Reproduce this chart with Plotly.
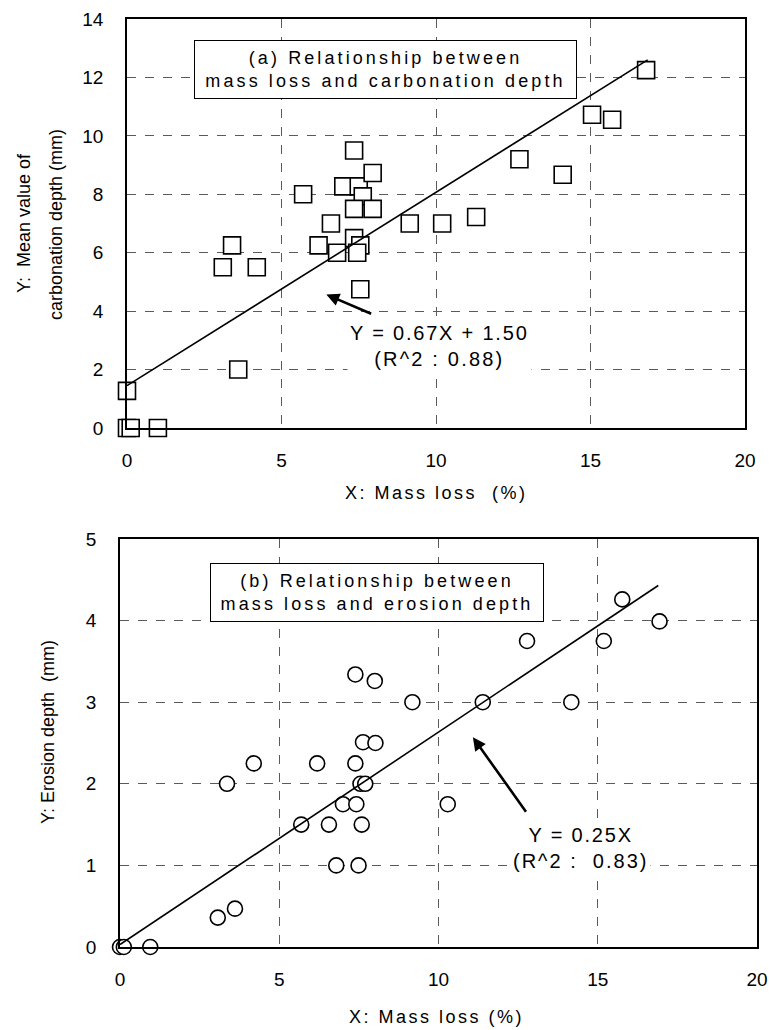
import plotly.graph_objects as go

# ---------------- data ----------------
# (a) mass loss (%) vs mean carbonation depth (mm)
mass_loss_a = [0, 0.12, 1.0, 0, 3.6, 3.1, 3.4, 4.2, 5.7, 6.6, 6.2, 6.8, 7.0, 7.35, 7.5,
               7.63, 7.35, 7.95, 7.95, 7.35, 7.55, 7.45, 7.55, 9.15, 10.2, 11.3, 12.7,
               14.1, 15.05, 15.7, 16.8]
carb_depth_a = [0, 0, 0, 1.27, 2.0, 5.5, 6.25, 5.5, 8.0, 7.0, 6.25, 6.0, 8.27, 9.5, 8.27,
                7.93, 7.5, 8.73, 7.5, 6.5, 6.25, 6.0, 4.75, 7.0, 7.0, 7.22, 9.2,
                8.67, 10.72, 10.55, 12.25]
fit_a_x = [0, 16.85]
fit_a_y = [1.45, 12.6]

# (b) mass loss (%) vs erosion depth (mm)
mass_loss_b = [0, 0.12, 0.95, 3.07, 3.61, 3.36, 4.2, 5.69, 6.19, 6.56, 6.79, 7.0, 7.42,
               7.49, 7.59, 7.55, 7.7, 7.39, 7.63, 8.02, 7.39, 8.0, 9.18, 10.29, 11.39,
               12.78, 14.17, 15.19, 15.77, 16.94]
eros_depth_b = [0, 0, 0, 0.36, 0.47, 2.0, 2.25, 1.5, 2.25, 1.5, 1.0, 1.75, 1.75,
                1.0, 1.5, 2.0, 2.0, 2.25, 2.51, 2.5, 3.34, 3.26, 3.0, 1.75, 3.0,
                3.75, 3.0, 3.75, 4.26, 3.99]
fit_b_x = [0, 16.9]
fit_b_y = [0.03, 4.43]

x_ticks = [0, 5, 10, 15, 20]
y_ticks_a = [0, 2, 4, 6, 8, 10, 12, 14]
y_ticks_b = [0, 1, 2, 3, 4, 5]

W, H = 769, 1030
FONT = "Liberation Sans, Arial, sans-serif"


def sp(t, ls):
    return f'<span style="letter-spacing:{ls}px">{t}</span>'


fig = go.Figure()

fig.add_trace(go.Scatter(x=mass_loss_a, y=carb_depth_a, mode="markers",
                         marker=dict(symbol="square", size=17, color="white",
                                     line=dict(width=1.6, color="black")),
                         xaxis="x", yaxis="y", cliponaxis=False))
fig.add_trace(go.Scatter(x=fit_a_x, y=fit_a_y, mode="lines",
                         line=dict(color="black", width=1.6),
                         xaxis="x", yaxis="y", cliponaxis=False, hoverinfo="skip"))
fig.add_trace(go.Scatter(x=mass_loss_b, y=eros_depth_b, mode="markers",
                         marker=dict(symbol="circle", size=15, color="white",
                                     line=dict(width=1.6, color="black")),
                         xaxis="x2", yaxis="y2", cliponaxis=False))
fig.add_trace(go.Scatter(x=fit_b_x, y=fit_b_y, mode="lines",
                         line=dict(color="black", width=1.6),
                         xaxis="x2", yaxis="y2", cliponaxis=False, hoverinfo="skip"))

axis_common = dict(showgrid=True, gridcolor="#5a5a5a", griddash="dash", gridwidth=1,
                   showline=True, linecolor="black", linewidth=1.6, mirror=True,
                   zeroline=False, ticks="", automargin=False,
                   tickfont=dict(family=FONT, size=19, color="black"))

fig.update_layout(
    width=W, height=H, margin=dict(l=0, r=0, t=0, b=0, pad=0), autosize=False,
    paper_bgcolor="white", plot_bgcolor="white", showlegend=False,
    font=dict(family=FONT, size=18, color="black"),
    xaxis=dict(domain=[127 / W, 745 / W], range=[0, 20], tickvals=x_ticks,
               anchor="y", ticklabelstandoff=14, **axis_common),
    yaxis=dict(domain=[602 / H, 1011 / H], range=[0, 14], tickvals=y_ticks_a,
               anchor="x", ticklabelstandoff=18, **axis_common),
    xaxis2=dict(domain=[120 / W, 757 / W], range=[0, 20], tickvals=x_ticks,
                anchor="y2", ticklabelstandoff=14, **axis_common),
    yaxis2=dict(domain=[83 / H, 491 / H], range=[0, 5], tickvals=y_ticks_b,
                anchor="x2", ticklabelstandoff=18, **axis_common),
)

ann = []
C = dict(xanchor="center", yanchor="middle", showarrow=False)
# axis titles
ann.append(dict(text=sp("X: Mass loss&nbsp;&nbsp;(%)", 2.5), xref="paper", yref="paper",
                x=436 / W, y=1 - 493 / H, font=dict(size=18), **C))
ann.append(dict(text=sp("X: Mass loss (%)", 2.5), xref="paper", yref="paper",
                x=436 / W, y=1 - 1017 / H, font=dict(size=18), **C))
ann.append(dict(text="Y:&nbsp;&nbsp;Mean value of", xref="paper", yref="paper",
                x=24 / W, y=1 - 223 / H, textangle=-90, font=dict(size=18), **C))
ann.append(dict(text="carbonation depth (mm)", xref="paper", yref="paper",
                x=56 / W, y=1 - 225 / H, textangle=-90, font=dict(size=18), **C))
ann.append(dict(text="Y: Erosion depth&nbsp;&nbsp;(mm)", xref="paper", yref="paper",
                x=48 / W, y=1 - 732 / H, textangle=-90, font=dict(size=18), **C))

# caption boxes
ann.append(dict(text=sp("(a) Relationship between", 3.1) + "<br>" + sp("mass loss and carbonation depth", 3.1),
                xref="x", yref="y", x=8.35, y=12.27,
                bgcolor="white", bordercolor="black", borderwidth=1, borderpad=2,
                width=377, height=53, align="center", valign="middle",
                font=dict(size=18), **C))
ann.append(dict(text=sp("(b) Relationship between", 3.1) + "<br>" + sp("mass loss and erosion depth", 3.1),
                xref="x2", yref="y2", x=8.08, y=4.34,
                bgcolor="white", bordercolor="black", borderwidth=1, borderpad=2,
                width=328, height=53, align="center", valign="middle",
                font=dict(size=18), **C))

# equations
ann.append(dict(text=sp("Y = 0.67X + 1.50", 1.8) + "<br>" + sp("(R^2 : 0.88)", 2.2),
                xref="x", yref="y", x=10.1, y=2.82,
                bgcolor="white", borderpad=2, align="center", font=dict(size=20), **C))
ann.append(dict(text=sp("Y = 0.25X", 1.8) + "<br>" + sp("(R^2 :&nbsp;&nbsp;0.83)", 2.0),
                xref="x2", yref="y2", x=14.47, y=1.21,
                bgcolor="white", borderpad=2, align="center", font=dict(size=20), **C))

# arrows
ann.append(dict(text="", xref="x", yref="y", axref="x", ayref="y",
                x=6.45, y=4.57, ax=7.95, ay=3.89, showarrow=True,
                arrowhead=2, arrowsize=1, arrowwidth=2.6, arrowcolor="black"))
ann.append(dict(text="", xref="x2", yref="y2", axref="x2", ayref="y2",
                x=11.08, y=2.57, ax=12.78, ay=1.64, showarrow=True,
                arrowhead=2, arrowsize=1, arrowwidth=2.6, arrowcolor="black"))

fig.update_layout(annotations=ann)
fig.write_html("out.html",
               post_script="document.body.style.margin='0';document.body.style.padding='0';")
